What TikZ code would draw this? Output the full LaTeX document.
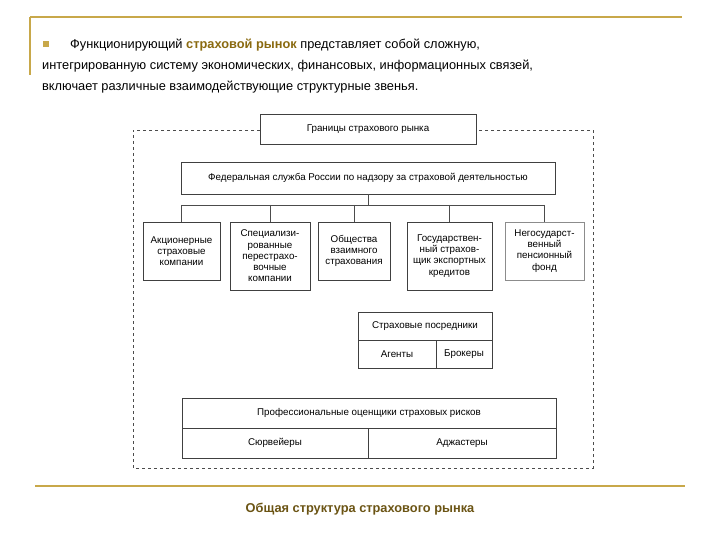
\documentclass[tikz,border=0pt]{standalone}
\usepackage{fontspec}
\setmainfont{Liberation Sans}
\definecolor{gold}{HTML}{C8A84A}
\definecolor{dgold}{HTML}{6B5414}
\definecolor{hl}{HTML}{8A6A10}
\begin{document}
\begin{tikzpicture}[x=1pt,y=-1pt,
  bx/.style={draw=black!75,line width=0.6pt,align=center,inner sep=1pt,font=\fontsize{9.8}{11.2}\selectfont},
  ln/.style={draw=black!70,line width=0.6pt}]
\useasboundingbox (0,0) rectangle (720,540);
% gold rules
\draw[gold,line width=1.5pt] (30,17) -- (682,17);
\draw[gold,line width=1.5pt] (30,17) -- (30,75);
\draw[gold,line width=1.8pt] (35,486) -- (685,486);
% header text
\fill[gold] (43,41) rectangle (49,47);
\node[anchor=base west,inner sep=0,font=\fontsize{12.8}{15}\selectfont] (t1) at (70,49) {Функционирующий \textcolor{hl}{\textbf{страховой рынок}} представляет собой сложную,};
\node[anchor=base west,inner sep=0,font=\fontsize{12.8}{15}\selectfont] (t2) at (42,70) {интегрированную систему экономических, финансовых, информационных связей,};
\node[anchor=base west,inner sep=0,font=\fontsize{12.8}{15}\selectfont] (t3) at (42,91) {включает различные взаимодействующие структурные звенья.};
% dashed border
\coordinate (d1) at (260,130); \coordinate (d2) at (133,130);
\coordinate (d3) at (133,468); \coordinate (d4) at (593,468);
\coordinate (d5) at (593,130); \coordinate (d6) at (476,130);
\draw[black!70,dashed,line width=0.5pt] (d1) -- (d2) -- (d3) -- (d4) -- (d5) -- (d6);
% boxes
\node[bx,minimum width=216,minimum height=30] (gr) at (368,129) {Границы страхового рынка};
\node[bx,minimum width=374,minimum height=32] (fed) at (368,178) {Федеральная служба России по надзору за страховой деятельностью};
\node[bx,minimum width=77,minimum height=58] (b1) at (181.5,251) {Акционерные\\страховые\\компании};
\node[bx,minimum width=80,minimum height=68,line width=0.9pt] (b2) at (270,256) {Специализи-\\рованные\\перестрахо-\\вочные\\компании};
\node[bx,minimum width=72,minimum height=58] (b3) at (354,251) {Общества\\взаимного\\страхования};
\node[bx,minimum width=85,minimum height=68,line width=0.9pt] (b4) at (449.5,256) {Государствен-\\ный страхов-\\щик экспортных\\кредитов};
\node[bx,minimum width=79,minimum height=58,draw=black!45] (b5) at (544.5,251) {Негосударст-\\венный\\пенсионный\\фонд};
\coordinate (hl) at (182,205); \coordinate (hr) at (545,205);
\draw[ln] (fed.south) -- (fed.south |- hl);
\draw[ln] (hl) -- (hr);
\foreach \b in {b1,b2,b3,b4,b5} \draw[ln] (\b.north |- hl) -- (\b.north);
% intermediaries
\node[bx,minimum width=134,minimum height=28] (pos) at (425,326) {Страховые посредники};
\node[bx,minimum width=78,minimum height=28] (ag) at (397,354) {Агенты};
\node[bx,minimum width=56,minimum height=28] (br) at (464,354) {Брокеры};
% assessors
\node[bx,minimum width=374,minimum height=30] (pr) at (369,413) {Профессиональные оценщики страховых рисков};
\node[bx,minimum width=186,minimum height=30] (sur) at (275,443) {Сюрвейеры};
\node[bx,minimum width=188,minimum height=30] (adj) at (462,443) {Аджастеры};
% caption
\node[font=\fontsize{12.8}{15}\selectfont\bfseries,text=dgold] (cap) at (360,509) {Общая структура страхового рынка};
\end{tikzpicture}
\end{document}
